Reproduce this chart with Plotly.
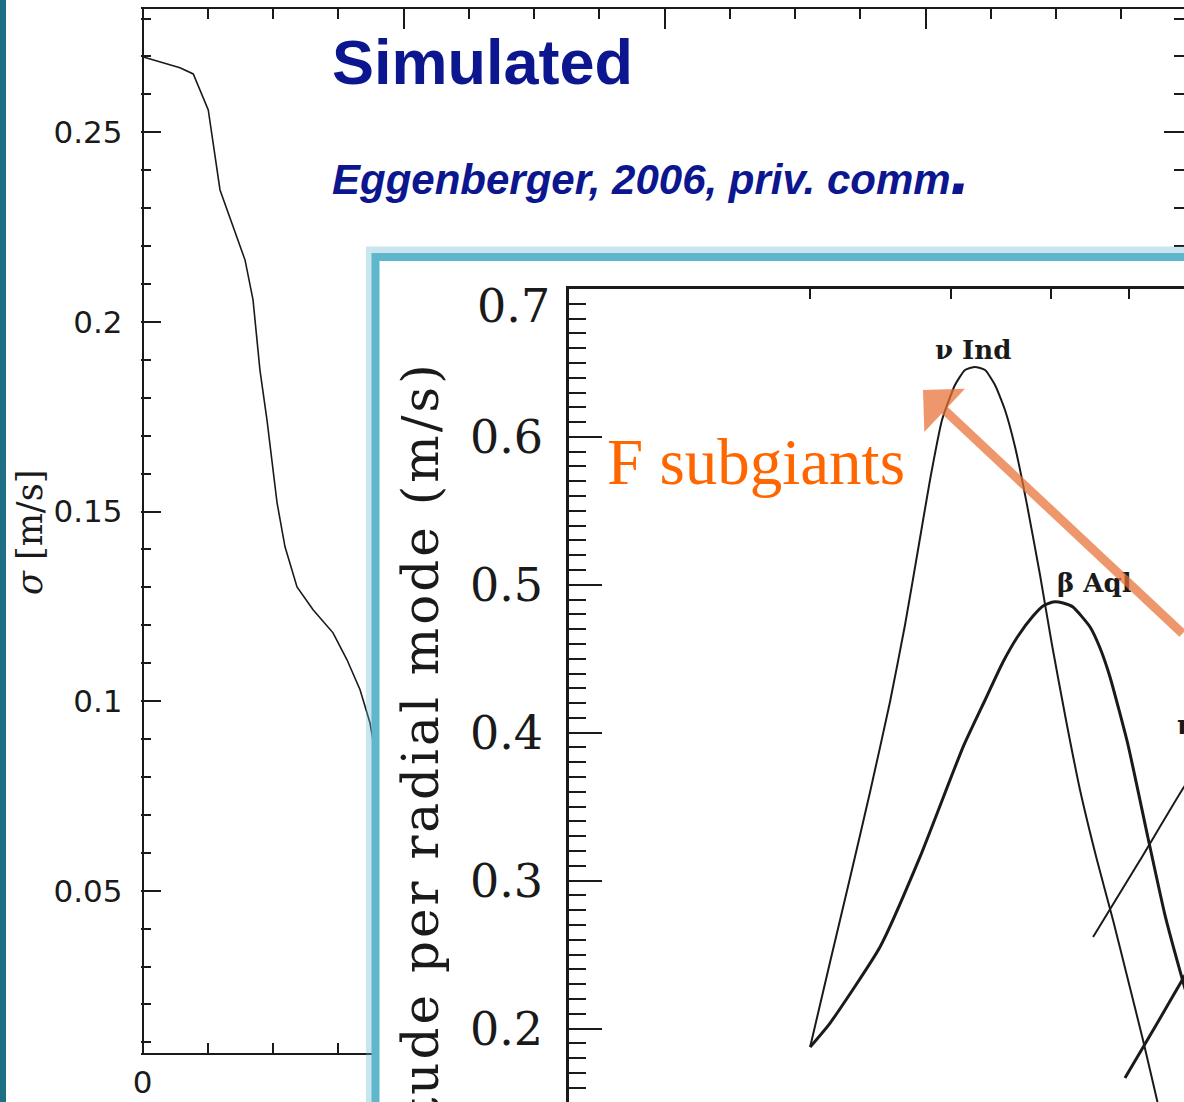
import plotly.graph_objects as go

W, H = 1184, 1102


def fx(p):
    """pixel column -> paper x"""
    return p / W


def fy(p):
    """pixel row -> paper y"""
    return 1 - p / H


# ---- background panel: simulated sigma versus frequency ----
sim_freq = [0, 287, 389, 504, 594, 786, 847, 900, 954, 1031, 1092, 1184,
            1307, 1460, 1567, 1667, 1743, 1805]
sim_sigma = [0.2699, 0.2670, 0.2654, 0.2559, 0.2348, 0.2163, 0.2058, 0.1873,
             0.1741, 0.1523, 0.1407, 0.1301, 0.1241, 0.1180, 0.1109, 0.1030,
             0.0943, 0.0819]
sim_xticks = [0, 2000, 4000, 6000]
sim_xlabels = ["0", "", "", ""]

# ---- inset: amplitude per radial mode versus frequency (mHz) ----
nu_ind_freq = [0.2000, 0.2118, 0.2243, 0.2376, 0.2516, 0.2627, 0.2727, 0.2823,
               0.2922, 0.3033, 0.3122, 0.3213, 0.3307, 0.3403, 0.3502, 0.3605,
               0.3731, 0.3873, 0.4009, 0.4173, 0.4345, 0.4562, 0.4777, 0.4988,
               0.5207, 0.5421, 0.5547]
nu_ind_amp = [0.1875, 0.2450, 0.3018, 0.3599, 0.4208, 0.4728, 0.5235, 0.5709,
              0.6114, 0.6351, 0.6452, 0.6473, 0.6452, 0.6351, 0.6182, 0.5932,
              0.5540, 0.5066, 0.4593, 0.4086, 0.3613, 0.3139, 0.2734, 0.2328,
              0.1922, 0.1517, 0.1280]

beta_aql_freq = [0.2000, 0.2118, 0.2445, 0.2743, 0.3104, 0.3307, 0.3482, 0.3636,
                 0.3796, 0.3907, 0.4020, 0.4138, 0.4258, 0.4472, 0.4602, 0.4736,
                 0.4988, 0.5283, 0.5547, 0.5858, 0.6134]
beta_aql_amp = [0.1875, 0.2037, 0.2551, 0.3160, 0.3903, 0.4221, 0.4478, 0.4654,
                0.4789, 0.4857, 0.4884, 0.4877, 0.4850, 0.4715, 0.4573, 0.4377,
                0.3917, 0.3288, 0.2767, 0.2294, 0.1922]

eta_boo_freq = [0.4511, 0.5164, 0.5858, 0.6134]
eta_boo_amp = [0.2619, 0.3139, 0.3633, 0.3782]

fourth_freq = [0.4944, 0.5390, 0.5858, 0.6134]
fourth_amp = [0.1665, 0.2010, 0.2348, 0.2531]

inset_yticks = [0.2, 0.3, 0.4, 0.5, 0.6, 0.7]
inset_xticks = [0.2, 0.3, 0.4, 0.5, 0.6]

INK = "#1a1a1a"
BLUE_TXT = "#0c168f"
ORANGE = "#ff6600"
FRAME = "#5fb6cd"

fig = go.Figure()

fig.add_trace(go.Scatter(x=sim_freq, y=sim_sigma, mode="lines",
                         line=dict(color=INK, width=1.6),
                         xaxis="x", yaxis="y", hoverinfo="skip", showlegend=False))

# opaque white card that the inset sits on
fig.add_trace(go.Scatter(x=[0, 1, 1, 0, 0], y=[0, 0, 1, 1, 0], mode="lines",
                         fill="toself", fillcolor="white", line=dict(width=0),
                         xaxis="x2", yaxis="y2", hoverinfo="skip", showlegend=False))

for fr, am, wd in [(nu_ind_freq, nu_ind_amp, 2.0),
                   (beta_aql_freq, beta_aql_amp, 3.0),
                   (eta_boo_freq, eta_boo_amp, 2.0),
                   (fourth_freq, fourth_amp, 3.0)]:
    fig.add_trace(go.Scatter(x=fr, y=am, mode="lines",
                             line=dict(color=INK, width=wd, shape="spline", smoothing=0.5),
                             xaxis="x3", yaxis="y3", hoverinfo="skip", showlegend=False))

x_span = 2000 / 261.0  # data units per pixel of the background panel
x_lo = -2.0 * x_span
x_hi = (W - 142.5) * x_span

fig.update_layout(
    template="none",
    width=W, height=H, autosize=False,
    margin=dict(l=0, r=0, t=0, b=0, pad=0),
    paper_bgcolor="white", plot_bgcolor="white",
    showlegend=False,
    xaxis=dict(domain=[fx(140.5), 1], range=[x_lo, x_hi], anchor="y", automargin=False,
               showline=True, linecolor=INK, linewidth=2, mirror="ticks",
               ticks="inside", ticklen=20, tickwidth=2, tickcolor=INK,
               tickmode="array", tickvals=sim_xticks, ticktext=sim_xlabels,
               minor=dict(tickmode="linear", tick0=0, dtick=500, ticks="inside",
                          ticklen=10, tickwidth=2, tickcolor=INK, showgrid=False),
               tickfont=dict(family="DejaVu Sans", size=31, color=INK),
               ticklabelstandoff=1,
               showgrid=False, zeroline=True, zerolinecolor=INK, zerolinewidth=2),
    yaxis=dict(domain=[fy(1053), fy(9)], range=[0.0072, 0.28252], anchor="x",
               automargin=False, showline=False, mirror="ticks",
               ticks="inside", ticklen=20, tickwidth=2, tickcolor=INK,
               tick0=0, dtick=0.05,
               minor=dict(tick0=0, dtick=0.01, ticks="inside", ticklen=10,
                          tickwidth=2, tickcolor=INK, showgrid=False),
               tickfont=dict(family="DejaVu Sans", size=31, color=INK),
               ticklabelstandoff=17,
               showgrid=False, zeroline=False),
    xaxis2=dict(domain=[fx(372), 1], range=[0, 1], anchor="y2", visible=False,
                automargin=False),
    yaxis2=dict(domain=[0, fy(252)], range=[0, 1], anchor="x2", visible=False,
                automargin=False),
    xaxis3=dict(type="log", domain=[fx(569), 1], range=[-1, -1 + (W - 569) / 801.0],
                anchor="y3", side="top", automargin=False,
                showline=True, linecolor=INK, linewidth=2.5,
                ticks="inside", ticklen=10, tickwidth=2, tickcolor=INK,
                tickmode="array", tickvals=inset_xticks, showticklabels=False,
                showgrid=False, zeroline=False),
    yaxis3=dict(domain=[0, fy(289)], range=[0.7 - (H - 289) / 1479.0, 0.7], anchor="x3",
                automargin=False, showline=True, linecolor=INK, linewidth=2.5,
                ticks="inside", ticklen=33, tickwidth=2, tickcolor=INK,
                tickmode="array", tickvals=inset_yticks,
                ticktext=[f"{v:.1f}" if v < 0.65 else "" for v in inset_yticks],
                minor=dict(tickmode="linear", tick0=0, dtick=0.01, ticks="inside",
                           ticklen=17, tickwidth=2, tickcolor=INK, showgrid=False),
                tickfont=dict(family="DejaVu Serif", size=46, color=INK),
                ticklabelstandoff=14,
                showgrid=False, zeroline=False),
)

shapes = [
    # slide edge strip
    dict(type="rect", xref="paper", yref="paper", x0=0, x1=fx(6), y0=0, y1=1,
         fillcolor="#1f6f86", line=dict(width=0), layer="above"),
    # soft glow and frame around the inset
    dict(type="rect", xref="paper", yref="paper", x0=fx(370), x1=fx(W + 40),
         y0=fy(H + 40), y1=fy(250.5), fillcolor="rgba(0,0,0,0)",
         line=dict(color="rgba(95,182,205,0.35)", width=8), layer="above"),
    dict(type="rect", xref="paper", yref="paper", x0=fx(375.5), x1=fx(W + 40),
         y0=fy(H + 40), y1=fy(257), fillcolor="rgba(0,0,0,0)",
         line=dict(color=FRAME, width=8), layer="above"),
]
fig.update_layout(shapes=shapes)

ann = [
    dict(text="<b>Simulated</b>", x=fx(330), y=fy(62), xanchor="left", yanchor="middle",
         font=dict(family="Liberation Sans", size=63, color=BLUE_TXT)),
    dict(text='<b><i>Eggenberger, 2006, priv. comm<span style="font-size:70px">.</span></i></b>',
         x=fx(330), y=fy(170), xanchor="left", yanchor="middle",
         font=dict(family="Liberation Sans", size=42, color=BLUE_TXT)),
    dict(text="<i>σ</i> [m/s]", x=fx(30), y=fy(533), textangle=-90,
         xanchor="center", yanchor="middle",
         font=dict(family="DejaVu Serif", size=35, color=INK)),
    dict(text='<span style="letter-spacing:3px">amplitude per radial mode (m/s)</span>',
         x=fx(421), y=fy(818), textangle=-90,
         xanchor="center", yanchor="middle",
         font=dict(family="DejaVu Serif", size=50, color=INK)),
    dict(text="0.7", xref="paper", yref="y3", x=fx(552), y=0.7, yshift=-17,
         xanchor="right", yanchor="middle",
         font=dict(family="DejaVu Serif", size=46, color=INK)),
    dict(text="<b>ν Ind</b>", xref="x3", yref="y3", x=-1 + (973 - 569) / 801.0,
         y=0.7 - (350 - 289) / 1479.0, xanchor="center", yanchor="middle",
         font=dict(family="DejaVu Serif", size=26, color=INK)),
    dict(text="<b>β Aql</b>", xref="x3", yref="y3", x=-1 + (1094 - 569) / 801.0,
         y=0.7 - (583 - 289) / 1479.0, xanchor="center", yanchor="middle",
         font=dict(family="DejaVu Serif", size=26, color=INK)),
    dict(text="<b>η Boo</b>", xref="x3", yref="y3", x=-1 + (1175 - 569) / 801.0,
         y=0.7 - (725 - 289) / 1479.0, xanchor="left", yanchor="middle",
         font=dict(family="DejaVu Serif", size=26, color=INK)),
    dict(text="F subgiants", x=fx(605), y=fy(462), xanchor="left", yanchor="middle",
         font=dict(family="Liberation Serif", size=65, color=ORANGE)),
    # pointer toward the F-subgiant peak
    dict(text="", x=fx(923), y=fy(390), showarrow=True, ax=307, ay=245,
         arrowhead=1, arrowsize=1.1, arrowwidth=9,
         arrowcolor="rgba(232,112,52,0.72)", standoff=0),
]
for a in ann:
    a.setdefault("xref", "paper")
    a.setdefault("yref", "paper")
    a.setdefault("showarrow", False)
fig.update_layout(annotations=ann)

fig.write_html("out.html")
